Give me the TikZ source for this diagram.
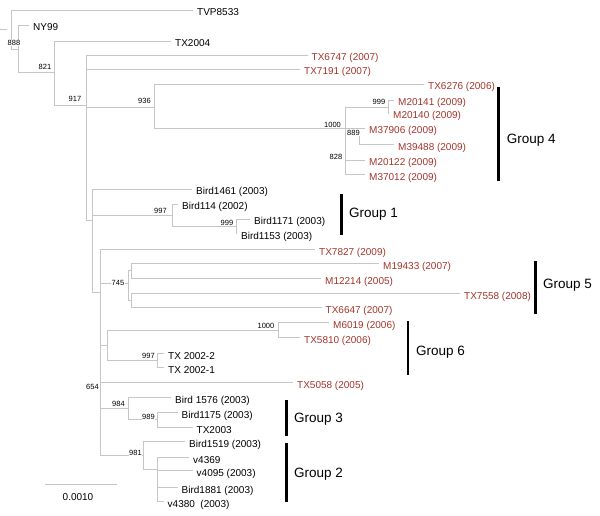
\documentclass[tikz,border=0pt]{standalone}
\usepackage{fontspec}
\setmainfont{Liberation Sans}
\usetikzlibrary{positioning}
\definecolor{isored}{RGB}{163,52,42}
\definecolor{branchgray}{RGB}{198,198,198}
\tikzset{
x=1pt, y=-1pt, % one unit is one pixel of the figure, y runs downwards
branch/.style={draw=branchgray, line width=0.8pt}, % the edges of the tree
tip/.style={anchor=base west, inner sep=0pt, xshift=4pt, yshift=-6pt, font=\fontsize{10}{12}\selectfont}, % leaf names
newtip/.style={tip, text=isored}, % the recent isolates, in red
boot/.style={fill=white, inner sep=0.4pt, font=\fontsize{7.5}{9}\selectfont}, % bootstrap values
bar/.style={line width=2.6pt}, % the group bars
grp/.style={anchor=base west, inner sep=0pt, yshift=-4.8pt, font=\fontsize{13.5}{16}\selectfont}, % group names
}
\begin{document}
\begin{tikzpicture}
\useasboundingbox (0,0) rectangle (600,516);

% inner nodes of the tree
\coordinate (root) at (11,30);
\coordinate (n888) at (18,49);
\coordinate (n821) at (54,72);
\coordinate (n917) at (86,105);
\coordinate (n936) at (154,107);
\coordinate (n1000a) at (345,128);
\coordinate (n999a) at (388,107);
\coordinate (n889) at (359,128);
\coordinate (nbird) at (92,220);
\coordinate (n997a) at (172,215);
\coordinate (n999b) at (236,226);
\coordinate (nlow) at (100,292);
\coordinate (n745) at (128.5,283);
\coordinate (n745u) at (131,270);
\coordinate (n745d) at (131,300);
\coordinate (nsix) at (107,345);
\coordinate (n1000b) at (278,330);
\coordinate (n997b) at (157,360);
\coordinate (n984) at (128,408);
\coordinate (n989) at (157,419);
\coordinate (n981) at (143,455);
\coordinate (nv) at (157,469);

% leaves
\coordinate[label={[tip]right:TVP8533}] (tvp) at (193,10);
\coordinate[label={[tip]right:NY99}] (ny99) at (29,25);
\coordinate[label={[tip]right:TX2004}] (tx2004) at (171,41);
\coordinate[label={[newtip]right:TX6747 (2007)}] (tx6747) at (307.5,55);
\coordinate[label={[newtip]right:TX7191 (2007)}] (tx7191) at (300,69);
\coordinate[label={[newtip]right:TX6276 (2006)}] (tx6276) at (424,84);
\coordinate[label={[newtip]right:M20141 (2009)}] (m20141) at (394,100);
\coordinate[label={[newtip]right:M20140 (2009)}] (m20140) at (389,113);
\coordinate[label={[newtip]right:M37906 (2009)}] (m37906) at (365,128);
\coordinate[label={[newtip]right:M39488 (2009)}] (m39488) at (394,144);
\coordinate[label={[newtip]right:M20122 (2009)}] (m20122) at (365,160);
\coordinate[label={[newtip]right:M37012 (2009)}] (m37012) at (365,174);
\coordinate[label={[tip]right:Bird1461 (2003)}] (b1461) at (192,189);
\coordinate[label={[tip]right:Bird114 (2002)}] (b114) at (178,204);
\coordinate[label={[tip]right:Bird1171 (2003)}] (b1171) at (250,219);
\coordinate[label={[tip]right:Bird1153 (2003)}] (b1153) at (237,233);
\coordinate[label={[newtip]right:TX7827 (2009)}] (tx7827) at (315,249);
\coordinate[label={[newtip]right:M19433 (2007)}] (m19433) at (379,263);
\coordinate[label={[newtip]right:M12214 (2005)}] (m12214) at (321,278);
\coordinate[label={[newtip]right:TX7558 (2008)}] (tx7558) at (460,293);
\coordinate[label={[newtip]right:TX6647 (2007)}] (tx6647) at (321.5,307);
\coordinate[label={[newtip]right:M6019 (2006)}] (m6019) at (329,322);
\coordinate[label={[newtip]right:TX5810 (2006)}] (tx5810) at (300,337);
\coordinate[label={[tip]right:TX 2002-2}] (tx2002b) at (164,353);
\coordinate[label={[tip]right:TX 2002-1}] (tx2002a) at (164,367);
\coordinate[label={[newtip]right:TX5058 (2005)}] (tx5058) at (293,382);
\coordinate[label={[tip]right:Bird 1576 (2003)}] (b1576) at (171,397);
\coordinate[label={[tip]right:Bird1175 (2003)}] (b1175) at (177.5,412);
\coordinate[label={[tip]right:TX2003}] (tx2003) at (192.5,427);
\coordinate[label={[tip]right:Bird1519 (2003)}] (b1519) at (185,441);
\coordinate[label={[tip]right:v4369}] (v4369) at (189,457);
\coordinate[label={[tip]right:v4095 (2003)}] (v4095) at (192.5,470);
\coordinate[label={[tip]right:Bird1881 (2003)}] (b1881) at (177.5,487);
\coordinate[label={[tip]right:v4380~~(2003)}] (v4380) at (163.5,501);

\coordinate (stub0) at (0,29);
\coordinate (stub1) at (7,29);

\draw[branch]
    (stub0) -- (stub1)
    (root) |- (tvp) (root) |- (n888)
    (n888) |- (ny99) (n888) |- (n821)
    (n821) |- (tx2004) (n821) |- (n917)
    (n917) |- (tx6747) (n917) |- (tx7191) (n917) |- (n936) (n917) |- (nbird)
    (n936) |- (tx6276) (n936) |- (n1000a)
    (n1000a) |- (n999a) (n1000a) |- (n889) (n1000a) |- (m20122) (n1000a) |- (m37012)
    (n999a) |- (m20141) (n999a) |- (m20140)
    (n889) |- (m37906) (n889) |- (m39488)

    (nbird) |- (b1461) (nbird) |- (n997a) (nbird) |- (nlow)
    (n997a) |- (b114) (n997a) |- (n999b)
    (n999b) |- (b1171) (n999b) |- (b1153)

    (nlow) |- (tx7827) (nlow) |- (n745) (nlow) |- (nsix)
    (nlow) |- (tx5058) (nlow) |- (n984) (nlow) |- (n981)
    (n745) |- (n745u) (n745) |- (n745d)
    (n745u) |- (m19433) (n745u) |- (m12214)
    (n745d) |- (tx7558) (n745d) |- (tx6647)
    (nsix) |- (n1000b) (nsix) |- (n997b)
    (n1000b) |- (m6019) (n1000b) |- (tx5810)
    (n997b) |- (tx2002b) (n997b) |- (tx2002a)
    (n984) |- (b1576) (n984) |- (n989)
    (n989) |- (b1175) (n989) |- (tx2003)
    (n981) |- (b1519) (n981) |- (nv)
    (nv) |- (v4369) (nv) |- (v4095) (nv) |- (b1881) (nv) |- (v4380)
    ;

% bootstrap values
\node[boot] (l888) at (14,43.3) {888};
\node[boot] (l821) at (45,67) {821};
\node[boot] (l917) at (75,99) {917};
\node[boot] (l936) at (144.5,100.5) {936};
\node[boot] (l999a) at (379,101.7) {999};
\node[boot] (l1000a) at (332.5,125) {1000};
\node[boot] (l889) at (353.5,132.5) {889};
\node[boot] (l828) at (336,156.7) {828};
\node[boot] (l997a) at (160.5,211) {997};
\node[boot] (l999b) at (227,222.5) {999};
\node[boot] (l745) at (118,283) {745};
\node[boot] (l1000b) at (266,326) {1000};
\node[boot] (l997b) at (148.5,356) {997};
\node[boot] (l654) at (92.5,387) {654};
\node[boot] (l984) at (118.5,404) {984};
\node[boot] (l989) at (148.5,417) {989};
\node[boot] (l981) at (135.5,453) {981};

% scale bar
\coordinate (sb0) at (45,484);
\coordinate (sb1) at (117,484);
\draw[branch] (sb0) -- (sb1);
\node[anchor=base, inner sep=0pt, font=\fontsize{10}{12}\selectfont] (sblabel) at (78,500.3) {0.0010};

% groups
\coordinate (g4a) at (498.7,87);  \coordinate (g4b) at (498.7,181);
\coordinate (g1a) at (341.7,194); \coordinate (g1b) at (341.7,235);
\coordinate (g5a) at (535.7,261); \coordinate (g5b) at (535.7,314);
\coordinate (g6a) at (408,321);   \coordinate (g6b) at (408,375);
\coordinate (g3a) at (286.7,400); \coordinate (g3b) at (286.7,436);
\coordinate (g2a) at (286.7,443); \coordinate (g2b) at (286.7,502);
\draw[bar] (g4a) -- (g4b) (g1a) -- (g1b) (g5a) -- (g5b)
           (g6a) -- (g6b) (g3a) -- (g3b) (g2a) -- (g2b);
\node[grp] (group4) at (506.7,139) {Group 4};
\node[grp] (group1) at (349,212.7) {Group 1};
\node[grp] (group5) at (543,284) {Group 5};
\node[grp] (group6) at (416,351) {Group 6};
\node[grp] (group3) at (294,418) {Group 3};
\node[grp] (group2) at (294,472.7) {Group 2};
\end{tikzpicture}
\end{document}
